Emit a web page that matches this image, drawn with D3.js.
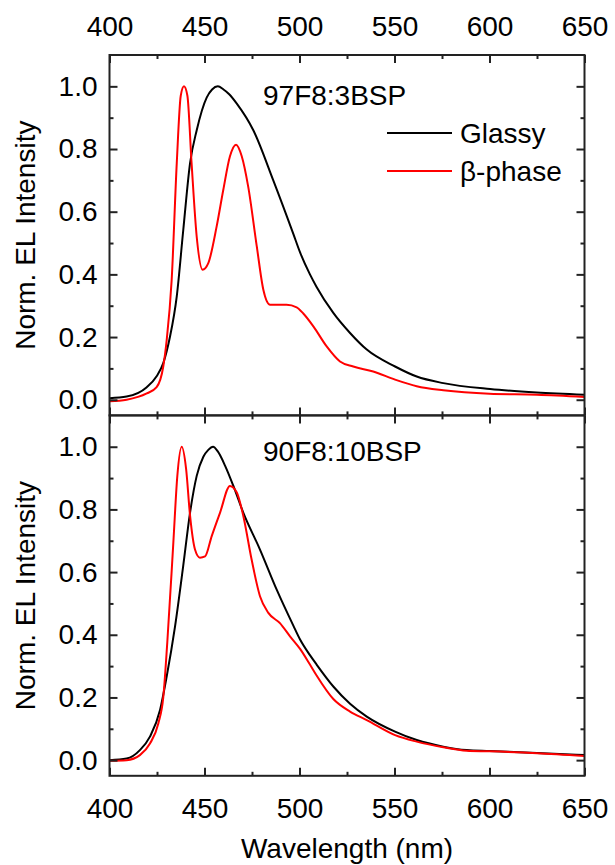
<!DOCTYPE html>
<html>
<head>
<meta charset="utf-8">
<script src="https://cdn.jsdelivr.net/npm/d3@7"></script>
<style>
  body { margin: 0; background: #fff; }
  text { font-family: "Liberation Sans", Arial, sans-serif; }
</style>
</head>
<body>
<svg width="615" height="865"></svg>
<script>
// wavelength (nm) and normalised EL
var topGlassyNm  = [400, 409, 419.6, 424.8, 428.3, 431.8, 435.4, 438.8, 442.4, 445.9, 451.2, 454, 457, 460, 463, 467, 475.7, 486.2, 496.7, 500.3, 505.5, 509, 517.8, 526.6, 535.4, 550.3, 561.7, 575.7, 600.3, 624.8, 650];
var topGlassyVal = [0.005, 0.01, 0.04, 0.075, 0.117, 0.2, 0.33, 0.54, 0.755, 0.86, 0.965, 0.99, 1.0, 0.99, 0.975, 0.945, 0.86, 0.70, 0.53, 0.47, 0.40, 0.36, 0.277, 0.213, 0.16, 0.106, 0.074, 0.053, 0.034, 0.023, 0.016];

var topBetaNm  = [400, 409, 419.6, 424.8, 428.3, 430.1, 432.7, 435.4, 437.5, 439.2, 441, 443.2, 445.9, 449, 452, 456.4, 459.9, 463.4, 466.6, 469.6, 473, 477.5, 481, 484.5, 493.2, 498.5, 502, 507.3, 514.3, 521.3, 528.3, 538.8, 550.3, 561.7, 575.7, 600, 625, 650];
var topBetaVal = [-0.005, 0.0, 0.02, 0.04, 0.106, 0.19, 0.38, 0.755, 0.97, 1.0, 0.97, 0.755, 0.52, 0.415, 0.436, 0.553, 0.67, 0.777, 0.814, 0.777, 0.68, 0.49, 0.35, 0.303, 0.303, 0.295, 0.275, 0.234, 0.17, 0.122, 0.106, 0.09, 0.064, 0.043, 0.03, 0.019, 0.016, 0.009];

var botGlassyNm  = [400, 409, 416, 421.3, 426.6, 430.1, 434.5, 438.8, 442.4, 445.9, 449.4, 452, 454.5, 457, 460.8, 465.2, 470.4, 479.2, 488, 496.7, 500.3, 505.5, 509, 517.8, 526.6, 535.4, 550.3, 561.7, 575.7, 588, 600, 625, 650];
var botGlassyVal = [0.0, 0.005, 0.032, 0.075, 0.16, 0.267, 0.427, 0.62, 0.79, 0.907, 0.968, 0.99, 1.0, 0.985, 0.94, 0.875, 0.79, 0.672, 0.544, 0.43, 0.385, 0.335, 0.305, 0.235, 0.18, 0.139, 0.091, 0.064, 0.043, 0.032, 0.029, 0.023, 0.016];

var botBetaNm  = [400, 409, 416, 421.3, 425.7, 428.3, 430.4, 433.6, 435.7, 438, 440.3, 442.4, 445, 447.6, 450.3, 453.8, 458.2, 463.4, 467, 470.4, 474.8, 479.2, 483.6, 489.7, 495, 500.3, 505.5, 509, 517.8, 526.6, 535.4, 550.3, 561.7, 575.7, 588, 600, 625, 650];
var botBetaVal = [-0.002, 0.0, 0.016, 0.053, 0.117, 0.2, 0.374, 0.694, 0.907, 1.0, 0.93, 0.78, 0.672, 0.646, 0.65, 0.715, 0.79, 0.875, 0.854, 0.78, 0.64, 0.523, 0.47, 0.437, 0.395, 0.355, 0.305, 0.27, 0.195, 0.155, 0.128, 0.08, 0.059, 0.041, 0.03, 0.028, 0.022, 0.013];

var panelLabels = ["97F8:3BSP", "90F8:10BSP"];
var seriesNames = ["Glassy", "\u03b2-phase"];
var seriesColors = ["#000000", "#ff0000"];
var xMajorTicks = [400, 450, 500, 550, 600, 650];
var xMinorTicks = [425, 475, 525, 575, 625];
var yMajorTicks = [0, 0.2, 0.4, 0.6, 0.8, 1.0];
var yMinorTicks = [0.1, 0.3, 0.5, 0.7, 0.9];

var svg = d3.select("svg");
var left = 109.5, right = 584.5, panelH = 360.4, top0 = 55;
var axisColor = "#222";

var x = d3.scaleLinear().domain([400, 650]).range([left, right]);

var panels = [
  { label: panelLabels[0], series: [[topGlassyNm, topGlassyVal], [topBetaNm, topBetaVal]], y0: top0, labelY: 105 },
  { label: panelLabels[1], series: [[botGlassyNm, botGlassyVal], [botBetaNm, botBetaVal]], y0: top0 + panelH, labelY: 461 }
];

panels.forEach(function (p, i) {
  var y = d3.scaleLinear().domain([-0.05, 1.1]).range([p.y0 + panelH, p.y0]);
  var g = svg.append("g");

  var clipId = "clip" + i;
  svg.append("clipPath").attr("id", clipId)
    .append("rect").attr("x", left).attr("y", p.y0).attr("width", right - left).attr("height", panelH);

  var line = d3.line()
    .x(function (d) { return x(d[0]); })
    .y(function (d) { return y(d[1]); })
    .curve(d3.curveMonotoneX);

  p.series.forEach(function (s, k) {
    var pts = s[0].map(function (nm, j) { return [nm, s[1][j]]; });
    g.append("path")
      .attr("d", line(pts))
      .attr("clip-path", "url(#" + clipId + ")")
      .attr("fill", "none")
      .attr("stroke", seriesColors[k])
      .attr("stroke-width", 2);
  });

  // inward ticks on all four sides
  function styleAxis(sel) {
    sel.select(".domain").remove();
    sel.selectAll(".tick line").attr("stroke", axisColor).attr("stroke-width", 2);
    sel.selectAll("text").attr("fill", "#000").style("font-size", "28px")
      .style("font-family", "'Liberation Sans', Arial, sans-serif");
  }

  var bottomAxis = d3.axisBottom(x).tickValues(xMajorTicks).tickSize(-8).tickPadding(22);
  if (i === 0) bottomAxis.tickFormat("");
  g.append("g").attr("transform", "translate(0," + (p.y0 + panelH) + ")").call(bottomAxis).call(styleAxis);
  g.append("g").attr("transform", "translate(0," + (p.y0 + panelH) + ")")
    .call(d3.axisBottom(x).tickValues(xMinorTicks).tickSize(-4).tickFormat("")).call(styleAxis);

  var topAxis = d3.axisTop(x).tickValues(xMajorTicks).tickSize(-8).tickPadding(19);
  if (i === 1) topAxis.tickFormat("");
  g.append("g").attr("transform", "translate(0," + p.y0 + ")").call(topAxis).call(styleAxis);
  g.append("g").attr("transform", "translate(0," + p.y0 + ")")
    .call(d3.axisTop(x).tickValues(xMinorTicks).tickSize(-4).tickFormat("")).call(styleAxis);

  g.append("g").attr("transform", "translate(" + left + ",0)")
    .call(d3.axisLeft(y).tickValues(yMajorTicks).tickSize(-8).tickPadding(12).tickFormat(d3.format(".1f")))
    .call(styleAxis);
  g.append("g").attr("transform", "translate(" + left + ",0)")
    .call(d3.axisLeft(y).tickValues(yMinorTicks).tickSize(-4).tickFormat("")).call(styleAxis);
  g.append("g").attr("transform", "translate(" + right + ",0)")
    .call(d3.axisRight(y).tickValues(yMajorTicks).tickSize(-8).tickFormat("")).call(styleAxis);
  g.append("g").attr("transform", "translate(" + right + ",0)")
    .call(d3.axisRight(y).tickValues(yMinorTicks).tickSize(-4).tickFormat("")).call(styleAxis);

  g.append("rect")
    .attr("x", left).attr("y", p.y0).attr("width", right - left).attr("height", panelH)
    .attr("fill", "none").attr("stroke", axisColor).attr("stroke-width", 2);

  g.append("text")
    .attr("x", 263).attr("y", p.labelY)
    .style("font-size", "28px")
    .text(p.label);

  g.append("text")
    .attr("transform", "translate(35," + (p.y0 + panelH / 2) + ") rotate(-90)")
    .attr("text-anchor", "middle")
    .style("font-size", "28px")
    .text("Norm. EL Intensity");
});

// legend in the top panel
seriesNames.forEach(function (name, k) {
  var ly = 133 + k * 38;
  svg.append("line")
    .attr("x1", 387).attr("x2", 452).attr("y1", ly).attr("y2", ly)
    .attr("stroke", seriesColors[k]).attr("stroke-width", 2);
  svg.append("text")
    .attr("x", 460).attr("y", ly + 10)
    .style("font-size", "28px")
    .text(name);
});

svg.append("text")
  .attr("x", (left + right) / 2).attr("y", 858)
  .attr("text-anchor", "middle")
  .style("font-size", "28px")
  .text("Wavelength (nm)");
</script>
</body>
</html>
